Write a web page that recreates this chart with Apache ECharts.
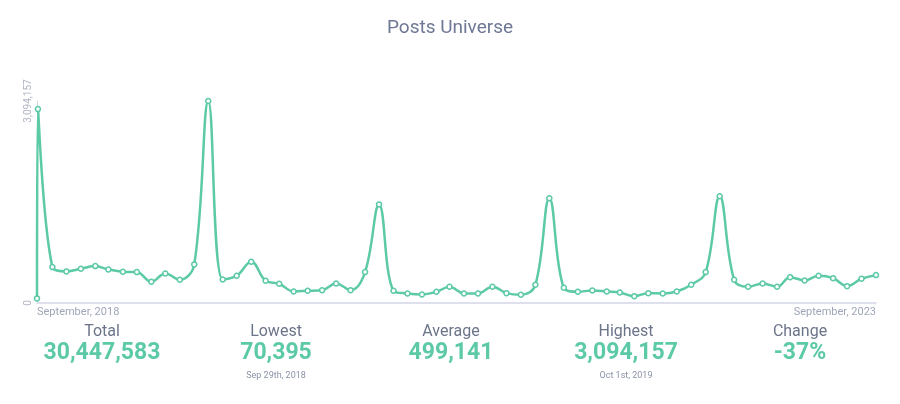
<!DOCTYPE html>
<html><head><meta charset="utf-8">
<script src="https://cdn.jsdelivr.net/npm/echarts@6/dist/echarts.min.js"></script>
<style>html,body{margin:0;padding:0;background:#fff}#c{width:900px;height:404px}</style>
</head><body><div id="c"></div>
<script>
const firstDate = '2018-09-29';
const firstValue = 70395;
const monthlyValues = [2970000,550000,484000,525000,565000,514000,479000,473000,325000,453000,356000,591000,
3094157,361000,418000,633000,341000,295000,177000,187000,197000,299000,197000,473000,
1510000,187000,146000,131000,172000,249000,146000,146000,249000,151000,126000,279000,
1605000,233000,172000,192000,177000,161000,105000,151000,146000,177000,279000,473000,
1635000,356000,249000,299000,249000,396000,345000,418000,381000,258000,371000,427000];
const statLabels = ['Total','Lowest','Average','Highest','Change'];
const statValues = ['30,447,583','70,395','499,141','3,094,157','-37%'];
const statSubs = ['','Sep 29th, 2018','','Oct 1st, 2019',''];
const yMax = 3094157;

const data = [[+new Date(firstDate), firstValue]];
monthlyValues.forEach((v,i)=>{
  const y = 2018 + Math.floor((9+i)/12), m = (9+i)%12 + 1;
  data.push([+new Date(y+'-'+String(m).padStart(2,'0')+'-01'), v]);
});
const tMin = data[0][0], tMax = data[data.length-1][0];
const months=['January','February','March','April','May','June','July','August','September','October','November','December'];
const centers=[102,276,451,626,800];
const chart = echarts.init(document.getElementById('c'));
chart.setOption({
  animation:false,
  title:{text:'Posts Universe',left:'center',top:14,textStyle:{color:'#6e7896',fontSize:19,fontWeight:'normal',fontFamily:'Roboto'}},
  grid:{left:37,right:24,top:101,bottom:101},
  xAxis:{type:'value',min:tMin,max:tMax,interval:tMax-tMin,
    axisLine:{show:true,onZero:false,lineStyle:{color:'#d3d7e6',width:1.5}},axisTick:{show:false},splitLine:{show:false},
    axisLabel:{alignMinLabel:'left',alignMaxLabel:'right',margin:4,color:'#a0a6b8',fontSize:11,fontFamily:'Roboto',
      formatter:v=>{const d=new Date(v);return months[d.getMonth()]+', '+d.getFullYear();}}},
  yAxis:{type:'value',min:0,max:yMax,interval:yMax,splitLine:{show:false},
    axisLine:{show:true,lineStyle:{color:'#d3d7e6'}},axisTick:{show:false},
    axisLabel:{rotate:90,color:'#b0b5c4',fontSize:10,fontFamily:'Roboto',margin:4,
      formatter:v=>v.toLocaleString('en-US')}},
  series:[{type:'line',data:data,smooth:0.4,symbol:'circle',symbolSize:5,
    lineStyle:{color:'#5cc9a7',width:2.5},itemStyle:{color:'#fff',borderColor:'#5cc9a7',borderWidth:1.5}}],
  graphic:statLabels.flatMap((l,i)=>{
    const arr=[{type:'text',x:centers[i],y:324,style:{text:l,fill:'#6b7489',font:'16px Roboto',align:'center'}},
      {type:'text',x:centers[i],y:342,style:{text:statValues[i],fill:'#5cc9a7',font:'bold 23px Roboto',align:'center'}}];
    if(statSubs[i]) arr.push({type:'text',x:centers[i],y:371,style:{text:statSubs[i],fill:'#8a92a6',font:'9px Roboto',align:'center'}});
    return arr;})
});
</script></body></html>
